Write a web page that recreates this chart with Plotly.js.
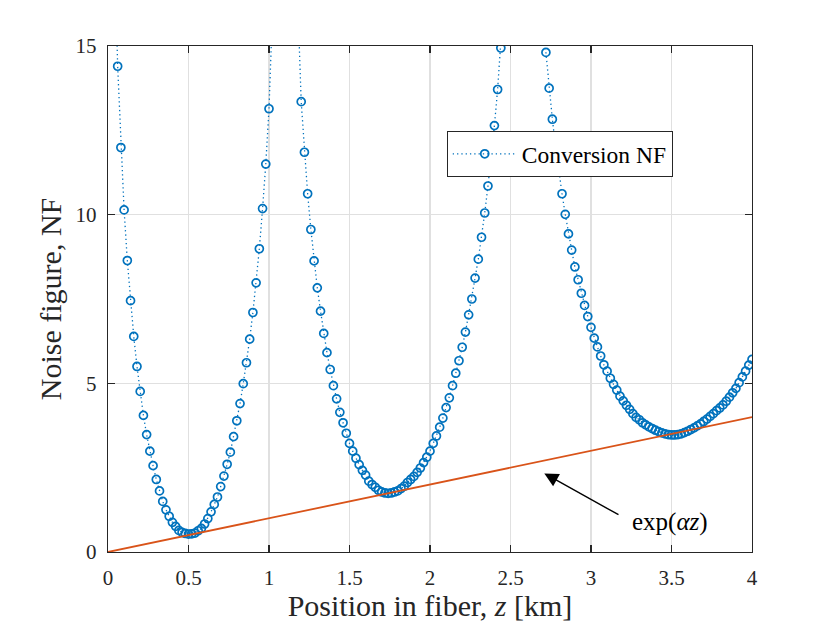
<!DOCTYPE html>
<html>
<head>
<meta charset="utf-8">
<script src="https://cdn.plot.ly/plotly-3.0.1.min.js"></script>
<style>html,body{margin:0;padding:0;background:#fff;}#chart{width:830px;height:623px;}</style>
</head>
<body>
<div id="chart"></div>
<script>
// Position in fiber z [km]
const zPos = [
  0.00,0.02,0.04,0.06,0.08,0.10,0.12,0.14,0.16,0.18,
  0.20,0.22,0.24,0.26,0.28,0.30,0.32,0.34,0.36,0.38,
  0.40,0.42,0.44,0.46,0.48,0.50,0.52,0.54,0.56,0.58,
  0.60,0.62,0.64,0.66,0.68,0.70,0.72,0.74,0.76,0.78,
  0.80,0.82,0.84,0.86,0.88,0.90,0.92,0.94,0.96,0.98,
  1.00,1.02,1.04,1.06,1.08,1.10,1.12,1.14,1.16,1.18,
  1.20,1.22,1.24,1.26,1.28,1.30,1.32,1.34,1.36,1.38,
  1.40,1.42,1.44,1.46,1.48,1.50,1.52,1.54,1.56,1.58,
  1.60,1.62,1.64,1.66,1.68,1.70,1.72,1.74,1.76,1.78,
  1.80,1.82,1.84,1.86,1.88,1.90,1.92,1.94,1.96,1.98,
  2.00,2.02,2.04,2.06,2.08,2.10,2.12,2.14,2.16,2.18,
  2.20,2.22,2.24,2.26,2.28,2.30,2.32,2.34,2.36,2.38,
  2.40,2.42,2.44,2.46,2.48,2.50,2.52,2.54,2.56,2.58,
  2.60,2.62,2.64,2.66,2.68,2.70,2.72,2.74,2.76,2.78,
  2.80,2.82,2.84,2.86,2.88,2.90,2.92,2.94,2.96,2.98,
  3.00,3.02,3.04,3.06,3.08,3.10,3.12,3.14,3.16,3.18,
  3.20,3.22,3.24,3.26,3.28,3.30,3.32,3.34,3.36,3.38,
  3.40,3.42,3.44,3.46,3.48,3.50,3.52,3.54,3.56,3.58,
  3.60,3.62,3.64,3.66,3.68,3.70,3.72,3.74,3.76,3.78,
  3.80,3.82,3.84,3.86,3.88,3.90,3.92,3.94,3.96,3.98,
  4.00
];
// Conversion noise figure (values above 15 lie off the top of the axes)
const conversionNF = [
  40,25,18.0,14.40,11.99,10.14,8.64,7.45,6.39,5.50,
  4.76,4.05,3.48,2.99,2.56,2.15,1.81,1.50,1.25,1.06,
  0.88,0.76,0.64,0.58,0.55,0.53,0.54,0.56,0.63,0.70,
  0.83,0.99,1.19,1.41,1.63,1.94,2.25,2.60,2.96,3.42,
  3.89,4.40,4.99,5.61,6.31,7.10,7.98,8.99,10.18,11.50,
  13.14,15.3,18.5,23,32,50,38,26,20,16.1,
  13.35,11.85,10.62,9.56,8.63,7.83,7.14,6.48,5.91,5.41,
  4.93,4.54,4.14,3.83,3.52,3.22,2.99,2.78,2.59,2.42,
  2.28,2.10,2.00,1.92,1.83,1.78,1.75,1.74,1.75,1.78,
  1.81,1.88,1.95,2.06,2.15,2.24,2.36,2.49,2.65,2.81,
  2.99,3.22,3.44,3.70,3.97,4.28,4.57,4.93,5.30,5.67,
  6.07,6.52,7.03,7.50,8.12,8.68,9.33,10.05,10.85,11.72,
  12.64,13.71,14.94,16.3,18.0,20.5,24,30,42,65,
  55,36,26,20.5,17.6,16.0,14.81,13.75,12.83,12.03,
  11.27,10.62,10.01,9.43,8.95,8.45,8.07,7.67,7.31,6.98,
  6.66,6.34,6.08,5.81,5.55,5.36,5.15,4.97,4.80,4.62,
  4.48,4.35,4.23,4.10,3.99,3.92,3.83,3.77,3.71,3.66,
  3.61,3.57,3.53,3.50,3.48,3.47,3.47,3.48,3.50,3.54,
  3.58,3.63,3.68,3.74,3.80,3.87,3.94,4.02,4.10,4.19,
  4.27,4.36,4.47,4.59,4.72,4.85,5.02,5.19,5.36,5.54,
  5.71
];
// exp(alpha z) reference line
const expZ = [0, 4];
const expY = [0, 4];
// Ticks
const xTickVals = [0, 0.5, 1, 1.5, 2, 2.5, 3, 3.5, 4];
const xTickText = ['0', '0.5', '1', '1.5', '2', '2.5', '3', '3.5', '4'];
const yTickVals = [0, 5, 10, 15];
const yTickText = ['0', '5', '10', '15'];
// Annotation anchor points (data coordinates)
const arrowHead = [2.71, 2.33];
const arrowTail = [3.18, 1.08];
const labelPos = [3.49, 0.90];

const FONT = 'Liberation Serif, Times New Roman, serif';
const AX = '#262626';

const traces = [
  {
    x: zPos, y: conversionNF, type: 'scatter', mode: 'lines+markers',
    name: 'Conversion NF',
    line: {color: '#0072BD', width: 1.3, dash: '1.3px,3px'},
    marker: {symbol: 'circle-open', size: 8, color: '#0072BD', line: {width: 1.7, color: '#0072BD'}},
    cliponaxis: true
  },
  {
    x: expZ, y: expY, type: 'scatter', mode: 'lines',
    name: 'exp', showlegend: false,
    line: {color: '#D95319', width: 1.8}
  }
];

const axisCommon = {
  showline: true, linecolor: AX, linewidth: 1.3, mirror: 'ticks',
  ticks: 'inside', ticklen: 7, tickwidth: 1.3, tickcolor: AX,
  showgrid: true, gridcolor: '#e0e0e0', gridwidth: 1.2,
  zeroline: false,
  tickfont: {family: FONT, size: 21, color: AX}
};

const layout = {
  width: 830, height: 623,
  margin: {l: 108, r: 78, t: 46, b: 71},
  paper_bgcolor: '#ffffff', plot_bgcolor: '#ffffff',
  font: {family: FONT, color: AX},
  showlegend: true,
  legend: {
    x: 0.526, y: 0.832, xanchor: 'left', yanchor: 'top',
    bgcolor: '#ffffff', bordercolor: AX, borderwidth: 1,
    font: {family: FONT, size: 23.5, color: '#000'},
    itemwidth: 64
  },
  xaxis: Object.assign({}, axisCommon, {
    range: [0, 4], tickmode: 'array', tickvals: xTickVals, ticktext: xTickText,
    ticklabelstandoff: 6,
    title: {text: 'Position in fiber, <i>z</i> [km]', font: {family: FONT, size: 30, color: AX}, standoff: 2}
  }),
  yaxis: Object.assign({}, axisCommon, {
    range: [0, 15], tickmode: 'array', tickvals: yTickVals, ticktext: yTickText,
    ticklabelstandoff: 6,
    title: {text: 'Noise figure, NF', font: {family: FONT, size: 30, color: AX}, standoff: 5}
  }),
  annotations: [
    {
      x: arrowHead[0], y: arrowHead[1], ax: arrowTail[0], ay: arrowTail[1],
      xref: 'x', yref: 'y', axref: 'x', ayref: 'y',
      text: '', showarrow: true, arrowhead: 2, arrowsize: 2, arrowwidth: 1.4, arrowcolor: '#000'
    },
    {
      x: labelPos[0], y: labelPos[1], xref: 'x', yref: 'y',
      text: 'exp(<i>αz</i>)', showarrow: false,
      font: {family: FONT, size: 25, color: '#000'}
    }
  ]
};

Plotly.newPlot('chart', traces, layout, {displayModeBar: false, staticPlot: true});
</script>
</body>
</html>
